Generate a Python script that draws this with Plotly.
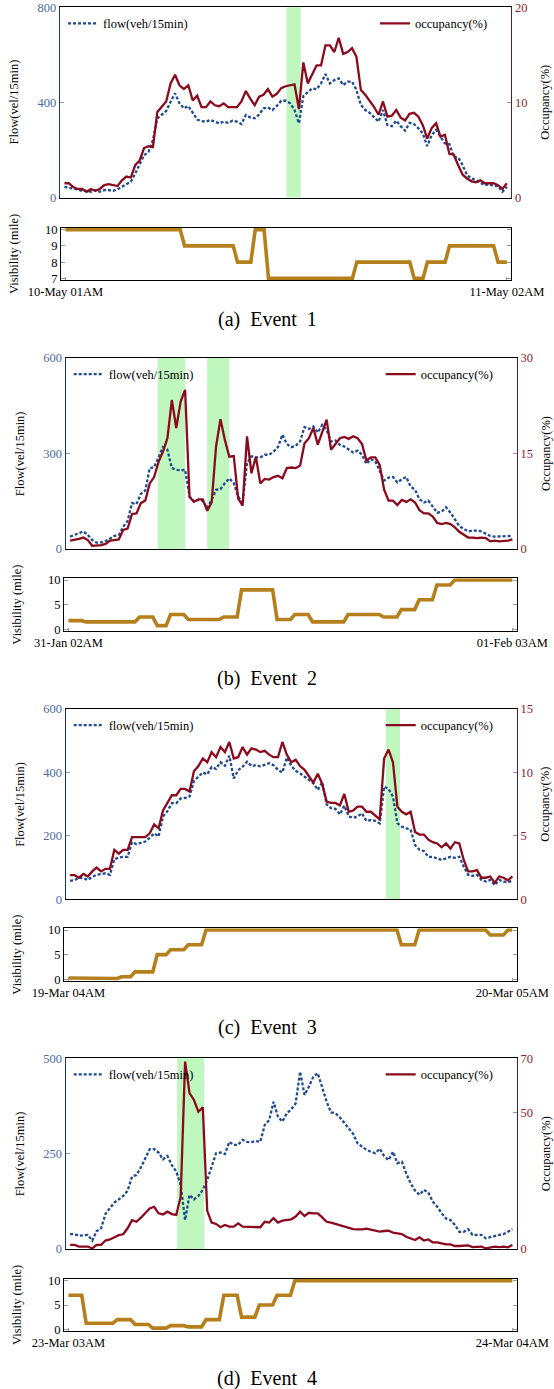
import plotly.graph_objects as go

W, H = 554, 1389
FONT = "Liberation Serif"

# time index: 15-minute steps over 25 hours
steps = list(range(101))

# ---------------- Event 1 ----------------
e1_flow = [45, 42, 38, 34, 28, 28, 24, 31, 24, 31,
           31, 28, 35, 45, 55, 66, 101, 143, 178, 192,
           241, 333, 347, 364, 403, 438, 396, 375, 385, 354,
           328, 321, 319, 326, 319, 312, 319, 314, 323, 319,
           309, 347, 337, 333, 349, 375, 379, 368, 385, 407,
           407, 396, 368, 312, 427, 445, 459, 455, 480, 519,
           480, 494, 501, 473, 487, 487, 452, 389, 368, 356,
           337, 319, 368, 305, 300, 323, 300, 281, 314, 309,
           291, 269, 216, 262, 284, 255, 227, 225, 171, 168,
           136, 94, 80, 73, 62, 52, 56, 48, 48, 24,
           45]
e1_occ = [1.5, 1.5, 1.1, 0.9, 0.9, 0.6, 0.9, 0.7, 0.9, 1.3,
          1.4, 1.3, 1.2, 1.8, 2.2, 2.1, 3.4, 3.9, 5.2, 5.4,
          5.3, 9.0, 9.5, 10.1, 12.0, 12.9, 11.8, 11.4, 11.8, 10.2,
          10.7, 9.5, 9.5, 10.1, 9.7, 9.6, 9.9, 9.5, 9.5, 9.5,
          10.1, 11.2, 10.4, 9.7, 10.6, 10.8, 11.4, 10.6, 10.9, 11.5,
          11.7, 11.8, 11.9, 9.3, 14.2, 12.0, 13.0, 13.9, 13.9, 16.0,
          16.0, 15.3, 16.8, 15.1, 15.3, 15.7, 14.8, 11.3, 10.8, 10.2,
          9.5, 8.7, 10.1, 8.5, 8.6, 9.2, 8.4, 8.1, 8.8, 8.9,
          8.5, 7.6, 6.2, 7.3, 7.8, 6.4, 6.6, 4.6, 4.5, 3.4,
          2.4, 2.0, 1.7, 1.6, 1.8, 1.5, 1.5, 1.5, 1.3, 0.9,
          1.5]
e1_vis = [10, 10, 10, 10, 10, 10, 10, 10, 10, 10,
          10, 10, 10, 10, 10, 10, 10, 10, 10, 10,
          10, 10, 10, 10, 10, 10, 10, 9, 9, 9,
          9, 9, 9, 9, 9, 9, 9, 9, 9, 8,
          8, 8, 8, 10, 10, 10, 7, 7, 7, 7,
          7, 7, 7, 7, 7, 7, 7, 7, 7, 7,
          7, 7, 7, 7, 7, 7, 8, 8, 8, 8,
          8, 8, 8, 8, 8, 8, 8, 8, 8, 7,
          7, 7, 8, 8, 8, 8, 8, 9, 9, 9,
          9, 9, 9, 9, 9, 9, 9, 9, 8, 8,
          8]
e1_bands = [(50.2, 53.4)]

# ---------------- Event 2 ----------------
e2_flow = [39, 44, 51, 55, 44, 28, 20, 21, 25, 34,
           41, 44, 70, 88, 144, 141, 173, 184, 254, 257,
           291, 320, 312, 254, 249, 247, 249, 165, 149, 154,
           151, 128, 154, 186, 188, 207, 222, 207, 165, 144,
           270, 291, 288, 288, 296, 296, 306, 320, 359, 330,
           320, 324, 338, 383, 377, 385, 366, 390, 374, 338,
           341, 327, 322, 312, 303, 309, 296, 267, 282, 275,
           247, 215, 224, 226, 209, 219, 226, 196, 186, 156,
           146, 152, 133, 114, 117, 131, 114, 91, 72, 63,
           55, 58, 58, 55, 49, 41, 39, 39, 41, 39,
           41]
e2_occ = [1.3, 1.4, 1.6, 1.8, 1.4, 0.5, 0.5, 0.6, 0.8, 1.3,
          1.4, 1.5, 3.0, 3.2, 5.5, 5.6, 7.2, 7.6, 10.3, 11.3,
          13.7, 15.3, 17.4, 23.4, 19.0, 23.2, 25.0, 8.2, 7.4, 7.8,
          7.8, 6.0, 7.3, 16.1, 20.4, 17.1, 14.5, 14.6, 7.9, 6.8,
          17.7, 11.9, 14.5, 10.3, 11.0, 10.9, 11.3, 11.5, 11.1, 12.7,
          12.8, 12.7, 13.1, 16.6, 17.4, 19.0, 16.4, 18.5, 20.3, 15.6,
          16.6, 17.4, 17.6, 17.3, 17.7, 17.4, 16.5, 13.9, 14.4, 14.4,
          13.2, 9.3, 7.6, 7.6, 6.9, 7.7, 7.4, 7.8, 7.3, 6.1,
          5.6, 5.6, 5.1, 4.1, 3.9, 4.1, 3.9, 3.4, 2.7, 2.2,
          1.8, 1.8, 1.7, 1.8, 1.7, 1.2, 1.3, 1.2, 1.2, 1.3,
          1.5]
e2_vis = [1.75, 1.75, 1.75, 1.75, 1.5, 1.5, 1.5, 1.5, 1.5, 1.5,
          1.5, 1.5, 1.5, 1.5, 1.5, 1.5, 2.5, 2.5, 2.5, 2.5,
          0.75, 0.75, 0.75, 3, 3, 3, 3, 2, 2, 2,
          2, 2, 2, 2, 2, 2.5, 2.5, 2.5, 2.5, 8,
          8, 8, 8, 8, 8, 8, 8, 2, 2, 2,
          2, 3, 3, 3, 3, 1.5, 1.5, 1.5, 1.5, 1.5,
          1.5, 1.5, 1.5, 3, 3, 3, 3, 3, 3, 3,
          3, 2.5, 2.5, 2.5, 2.5, 4, 4, 4, 4, 6,
          6, 6, 6, 9, 9, 9, 9, 10, 10, 10,
          10, 10, 10, 10, 10, 10, 10, 10, 10, 10,
          10]
e2_bands = [(19.8, 26.0), (31.0, 36.0)]

# ---------------- Event 3 ----------------
e3_flow = [58, 60, 68, 66, 61, 71, 77, 79, 82, 77,
           127, 131, 134, 134, 180, 174, 178, 182, 194, 208,
           198, 261, 278, 303, 303, 318, 320, 324, 373, 387,
           400, 394, 417, 411, 432, 421, 453, 381, 407, 418,
           434, 420, 423, 419, 423, 429, 423, 408, 400, 447,
           421, 405, 397, 387, 376, 366, 345, 369, 299, 287,
           285, 268, 295, 261, 257, 261, 271, 247, 250, 247,
           239, 355, 348, 324, 240, 229, 224, 219, 171, 156,
           152, 134, 134, 129, 124, 129, 134, 131, 134, 103,
           77, 74, 77, 61, 56, 61, 45, 61, 56, 54,
           58]
e3_occ = [1.9, 1.9, 1.7, 2.0, 1.8, 2.2, 2.5, 2.2, 2.4, 2.4,
          3.9, 3.6, 3.9, 3.9, 4.9, 4.9, 4.9, 4.9, 5.2, 5.9,
          5.6, 7.0, 7.6, 8.2, 8.2, 8.7, 8.7, 8.5, 10.1, 10.5,
          11.1, 10.8, 11.6, 11.2, 12.0, 11.6, 12.4, 11.1, 11.2, 12.0,
          11.4, 11.9, 11.8, 11.6, 11.7, 11.4, 11.2, 11.2, 12.4, 11.4,
          10.8, 11.0, 10.5, 10.2, 9.7, 9.2, 9.9, 9.1, 7.7, 7.6,
          7.6, 7.4, 8.3, 6.9, 7.0, 7.3, 7.3, 6.9, 6.9, 6.6,
          6.3, 11.1, 11.8, 10.8, 7.3, 6.9, 6.7, 6.9, 5.3, 5.1,
          5.1, 4.7, 4.5, 4.4, 4.1, 4.4, 4.0, 4.5, 4.4, 3.1,
          2.2, 2.2, 2.3, 1.7, 1.7, 1.8, 1.3, 1.8, 1.7, 1.5,
          1.8]
e3_vis = [0.25, 0.25, 0.25, 0.25, 0.15, 0.15, 0.15, 0.15, 0.15, 0.15,
          0.15, 0.15, 0.5, 0.5, 0.5, 1.5, 1.5, 1.5, 1.5, 1.5,
          5, 5, 5, 6, 6, 6, 6, 7, 7, 7,
          7, 10, 10, 10, 10, 10, 10, 10, 10, 10,
          10, 10, 10, 10, 10, 10, 10, 10, 10, 10,
          10, 10, 10, 10, 10, 10, 10, 10, 10, 10,
          10, 10, 10, 10, 10, 10, 10, 10, 10, 10,
          10, 10, 10, 10, 10, 7, 7, 7, 7, 10,
          10, 10, 10, 10, 10, 10, 10, 10, 10, 10,
          10, 10, 10, 10, 10, 9, 9, 9, 9, 10,
          10]
e3_bands = [(71.4, 74.6)]

# ---------------- Event 4 ----------------
e4_flow = [39, 39, 35, 37, 37, 22, 47, 54, 92, 107,
           122, 130, 139, 153, 190, 194, 214, 238, 262, 262,
           253, 235, 244, 220, 203, 168, 76, 142, 130, 139,
           155, 181, 216, 251, 253, 249, 281, 273, 273, 286,
           281, 280, 283, 281, 325, 338, 386, 347, 334, 356,
           366, 382, 465, 404, 426, 452, 461, 426, 386, 358,
           356, 345, 330, 314, 302, 277, 268, 260, 255, 251,
           263, 244, 233, 255, 225, 229, 198, 172, 153, 142,
           155, 148, 124, 111, 94, 80, 76, 63, 45, 45,
           52, 37, 37, 37, 28, 32, 34, 37, 39, 45,
           52]
e4_occ = [1.5, 1.5, 0.9, 0.9, 0.9, 0.2, 1.5, 1.5, 3.1, 3.5,
          4.3, 5.1, 5.4, 7.6, 10.6, 10.0, 11.5, 13.1, 14.9, 15.5,
          13.1, 12.7, 13.7, 12.8, 12.5, 19.2, 68.8, 57.2, 54.7, 50.4,
          52.0, 14.0, 9.7, 9.2, 8.0, 8.8, 8.2, 8.2, 9.4, 8.2,
          8.2, 8.0, 8.2, 8.0, 10.0, 9.7, 11.3, 9.7, 10.4, 10.6,
          10.9, 11.9, 13.7, 12.1, 13.3, 13.1, 13.1, 11.6, 10.0, 9.7,
          9.2, 8.6, 8.2, 7.7, 7.3, 7.2, 7.2, 7.5, 7.2, 6.7,
          6.4, 6.6, 6.7, 6.0, 5.8, 5.5, 4.5, 3.9, 3.3, 4.3,
          3.1, 3.5, 2.4, 2.4, 2.1, 1.7, 1.7, 1.1, 1.1, 1.1,
          1.3, 0.7, 0.9, 0.9, 0.2, 0.6, 0.9, 0.7, 0.9, 0.6,
          1.5]
e4_vis = [7, 7, 7, 7, 1.25, 1.25, 1.25, 1.25, 1.25, 1.25,
          1.25, 2, 2, 2, 2, 1, 1, 1, 1, 0.25,
          0.25, 0.25, 0.25, 0.75, 0.75, 0.75, 0.75, 0.5, 0.5, 0.5,
          0.5, 2, 2, 2, 2, 7, 7, 7, 7, 2.5,
          2.5, 2.5, 2.5, 5, 5, 5, 5, 7, 7, 7,
          7, 10, 10, 10, 10, 10, 10, 10, 10, 10,
          10, 10, 10, 10, 10, 10, 10, 10, 10, 10,
          10, 10, 10, 10, 10, 10, 10, 10, 10, 10,
          10, 10, 10, 10, 10, 10, 10, 10, 10, 10,
          10, 10, 10, 10, 10, 10, 10, 10, 10, 10,
          10]
e4_bands = [(24.2, 30.3)]

start_labels = ["10-May 01AM", "31-Jan 02AM", "19-Mar 04AM", "23-Mar 03AM"]
end_labels = ["11-May 02AM", "01-Feb 03AM", "20-Mar 05AM", "24-Mar 04AM"]
captions = ["(a)\u00a0 Event\u00a0 1", "(b)\u00a0 Event\u00a0 2",
            "(c)\u00a0 Event\u00a0 3", "(d)\u00a0 Event\u00a0 4"]

events = [
    dict(flow=e1_flow, occ=e1_occ, vis=e1_vis, bands=e1_bands,
         fr=[0, 800], ft=[0, 400, 800], orng=[0, 20], ot=[0, 10, 20],
         vr=[6.9, 10.1], vt=[7, 8, 9, 10],
         main=(60, 511.3, 7.3, 197.5), vbox=(61, 511.3, 228, 280), cap=320),
    dict(flow=e2_flow, occ=e2_occ, vis=e2_vis, bands=e2_bands,
         fr=[0, 600], ft=[0, 300, 600], orng=[0, 30], ot=[0, 15, 30],
         vr=[-0.35, 10.35], vt=[0, 5, 10],
         main=(65.7, 516.8, 358, 549), vbox=(64, 516.8, 578.3, 631), cap=678),
    dict(flow=e3_flow, occ=e3_occ, vis=e3_vis, bands=e3_bands,
         fr=[0, 600], ft=[0, 200, 400, 600], orng=[0, 15], ot=[0, 5, 10, 15],
         vr=[-0.35, 10.35], vt=[0, 5, 10],
         main=(65.7, 516.8, 709, 899.3), vbox=(64, 516.8, 928.3, 981), cap=1027),
    dict(flow=e4_flow, occ=e4_occ, vis=e4_vis, bands=e4_bands,
         fr=[0, 500], ft=[0, 250, 500], orng=[0, 70], ot=[0, 50, 70],
         vr=[-0.35, 10.35], vt=[0, 5, 10],
         main=(65.7, 516.8, 1058.3, 1249), vbox=(64, 516.8, 1279, 1331), cap=1378),
]

C_FLOW = "#1f4a8f"
C_OCC = "#8b0a1e"
C_VIS = "#b57f1c"
C_BAND = "#bff7bf"
C_LTICK = "#4d6aa6"
C_RTICK = "#8e1b2e"
C_LLINE = "#1c3474"
C_RLINE = "#5e1a3a"


def sfx(n):
    return "" if n == 1 else str(n)


fig = go.Figure()
layout = dict(template="none", width=W, height=H, margin=dict(l=0, r=0, t=0, b=0, pad=0),
              autosize=False, paper_bgcolor="white", plot_bgcolor="white",
              font=dict(family=FONT, size=12.5, color="black"),
              shapes=[], annotations=[])

for k, ev in enumerate(events, start=1):
    nxm, nxv = 2 * k - 1, 2 * k
    nyl, nyr, nyv = 3 * k - 2, 3 * k - 1, 3 * k
    L, R, T, B = ev["main"]
    vL, vR, vT, vB = ev["vbox"]
    leg_f = "legend" + sfx(2 * k - 1)
    leg_o = "legend" + sfx(2 * k)

    fig.add_trace(go.Scatter(x=steps, y=ev["flow"], mode="lines", name="flow(veh/15min)",
                             line=dict(color=C_FLOW, width=2.3, dash="3px,2px"),
                             xaxis="x" + sfx(nxm), yaxis="y" + sfx(nyl), legend=leg_f))
    fig.add_trace(go.Scatter(x=steps, y=ev["occ"], mode="lines", name="occupancy(%)",
                             line=dict(color=C_OCC, width=2.3),
                             xaxis="x" + sfx(nxm), yaxis="y" + sfx(nyr), legend=leg_o))
    fig.add_trace(go.Scatter(x=steps, y=ev["vis"], mode="lines", showlegend=False,
                             line=dict(color=C_VIS, width=3.6),
                             xaxis="x" + sfx(nxv), yaxis="y" + sfx(nyv)))

    for (b0, b1) in ev["bands"]:
        layout["shapes"].append(dict(type="rect", xref="x" + sfx(nxm), yref="y" + sfx(nyl) + " domain",
                                     x0=b0, x1=b1, y0=0, y1=1, fillcolor=C_BAND,
                                     line=dict(width=0), layer="below"))

    layout["xaxis" + sfx(nxm)] = dict(domain=[L / W, R / W], anchor="y" + sfx(nyl), range=[-1, 101],
                                      showline=True, mirror=True, linecolor="black", linewidth=1.1,
                                      showticklabels=False, ticks="", showgrid=False, zeroline=False,
                                      automargin=False)
    layout["yaxis" + sfx(nyl)] = dict(domain=[1 - B / H, 1 - T / H], anchor="x" + sfx(nxm),
                                      range=ev["fr"], tickvals=ev["ft"], ticks="inside", ticklen=4,
                                      tickcolor="#9a9a9a", tickfont=dict(color=C_LTICK, size=12.5),
                                      showline=True, linecolor=C_LLINE, linewidth=1.3,
                                      showgrid=False, zeroline=False, automargin=False)
    layout["yaxis" + sfx(nyr)] = dict(overlaying="y" + sfx(nyl), side="right", anchor="x" + sfx(nxm),
                                      range=ev["orng"], tickvals=ev["ot"], ticks="inside", ticklen=4,
                                      tickcolor="#9a9a9a", tickfont=dict(color=C_RTICK, size=12.5),
                                      showline=True, linecolor=C_RLINE, linewidth=1.3,
                                      showgrid=False, zeroline=False, automargin=False)
    layout["xaxis" + sfx(nxv)] = dict(domain=[vL / W, vR / W], anchor="y" + sfx(nyv), range=[-1, 101],
                                      tickvals=[0, 100], ticktext=[start_labels[k - 1], end_labels[k - 1]],
                                      ticks="inside", ticklen=3, tickcolor="#9a9a9a",
                                      tickfont=dict(color="black", size=12.5),
                                      showline=True, mirror=True, linecolor="black", linewidth=1,
                                      showgrid=False, zeroline=False, layer="below traces",
                                      automargin=False)
    layout["yaxis" + sfx(nyv)] = dict(domain=[1 - vB / H, 1 - vT / H], anchor="x" + sfx(nxv),
                                      range=ev["vr"], tickvals=ev["vt"], ticks="inside", ticklen=4,
                                      tickcolor="#9a9a9a", tickfont=dict(color="black", size=12.5),
                                      showline=True, mirror="ticks", linecolor="black", linewidth=1,
                                      showgrid=False, zeroline=False, layer="below traces",
                                      automargin=False)

    cy = (T + B) / 2
    occ_x = min(R + 34, 545.5)
    layout["annotations"] += [
        dict(text="Flow(vel/15min)", x=(L - 46) / W, y=1 - cy / H, xref="paper", yref="paper",
             textangle=-90, showarrow=False, xanchor="center", yanchor="middle",
             font=dict(size=12.5, color="black")),
        dict(text="Occupancy(%)", x=occ_x / W, y=1 - cy / H, xref="paper", yref="paper",
             textangle=-90, showarrow=False, xanchor="center", yanchor="middle",
             font=dict(size=12.5, color="black")),
        dict(text="Visibility (mile)", x=(vL - 47) / W, y=1 - ((vT + vB) / 2) / H,
             xref="paper", yref="paper", textangle=-90, showarrow=False,
             xanchor="center", yanchor="middle", font=dict(size=12.5, color="black")),
        dict(text=captions[k - 1], x=267 / W, y=1 - ev["cap"] / H, xref="paper", yref="paper",
             showarrow=False, xanchor="center", yanchor="middle", font=dict(size=20, color="black")),
    ]

    legend_common = dict(bgcolor="rgba(0,0,0,0)", borderwidth=0, font=dict(size=12.5, color="black"),
                         yanchor="middle", xanchor="left")
    layout[leg_f] = dict(legend_common, x=(L + 3) / W, y=1 - (T + 16.5) / H)
    layout[leg_o] = dict(legend_common, x=(L + 315) / W, y=1 - (T + 16.5) / H)

fig.update_layout(**layout)
fig.write_html("out.html", config={"displayModeBar": False},
               post_script="document.body.style.margin='0px';document.body.style.overflow='hidden';")
